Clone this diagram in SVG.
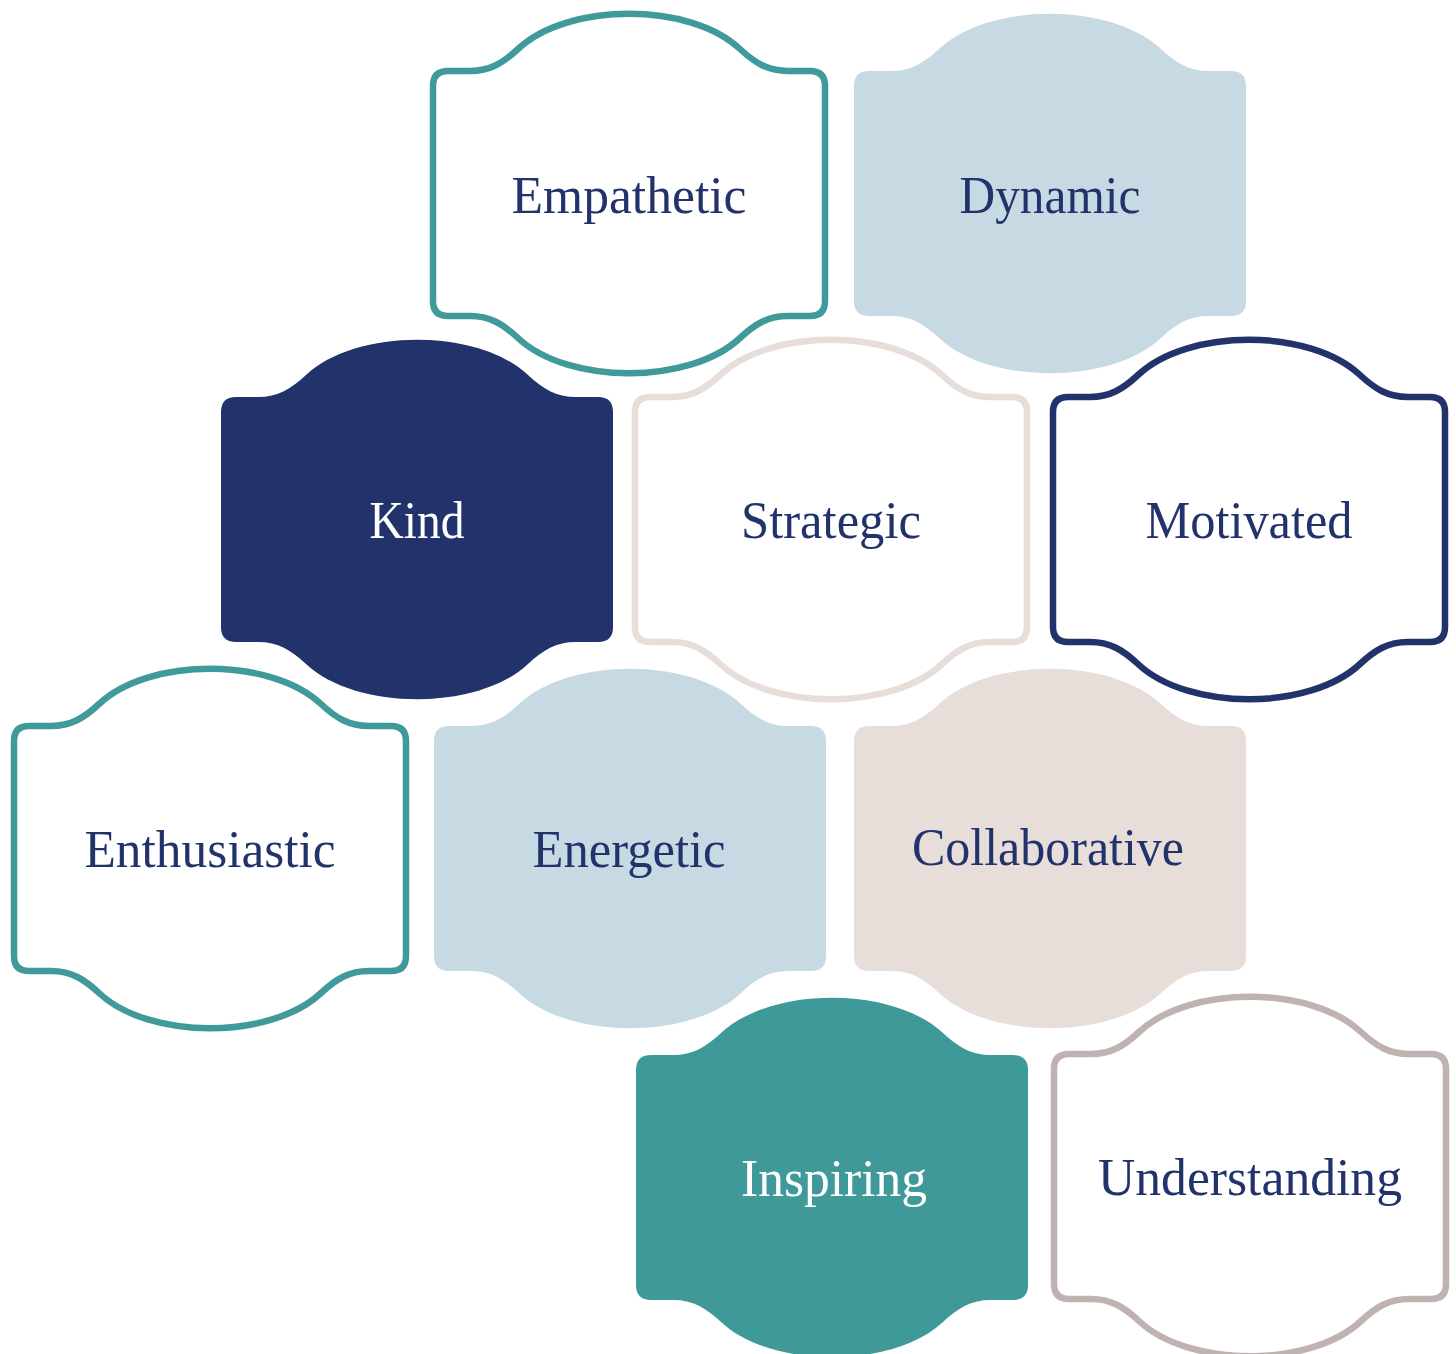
<svg xmlns="http://www.w3.org/2000/svg" xmlns:xlink="http://www.w3.org/1999/xlink" width="1456" height="1354" viewBox="0 0 1456 1354">
<style>
  .lbl { font-family: "Liberation Serif", "DejaVu Serif", serif; font-size: 52px; text-anchor: middle; fill: #22336B; }
  .w { fill: #FFFFFF; }
  .o { fill: #FFFFFF; stroke-width: 6.5; }
  .teal-o { stroke: #409A9A; }
  .navy-o { stroke: #22336B; }
  .beige-o { stroke: #E7DED9; }
  .taupe-o { stroke: #BFB2B0; }
  .blue-f { fill: #C7DAE4; }
  .navy-f { fill: #22326B; }
  .beige-f { fill: #E7DED9; }
  .teal-f { fill: #409999; }
</style>
<defs>
  <path id="shape" d="M 15,0 L 37,0 C 57,0 70,-8 85,-22 C 135,-69 257,-69 307,-22 C 322,-8 335,0 355,0 L 377,0 Q 392,0 392,15 L 392,230 Q 392,245 377,245 L 355,245 C 335,245 322,253 307,267 C 257,314 135,314 85,267 C 70,253 57,245 37,245 L 15,245 Q 0,245 0,230 L 0,15 Q 0,0 15,0 Z"/>
</defs>
<rect width="1456" height="1354" fill="#FFFFFF"/>

<g id="empathetic">
  <use xlink:href="#shape" href="#shape" class="o teal-o" transform="translate(433,71)"/>
  <text class="lbl" x="629" y="213" textLength="235" lengthAdjust="spacingAndGlyphs">Empathetic</text>
</g>
<g id="dynamic">
  <use xlink:href="#shape" href="#shape" class="blue-f" transform="translate(854,71)"/>
  <text class="lbl" x="1050" y="213" textLength="181" lengthAdjust="spacingAndGlyphs">Dynamic</text>
</g>
<g id="kind">
  <use xlink:href="#shape" href="#shape" class="navy-f" transform="translate(221,397)"/>
  <text class="lbl w" x="417" y="538" textLength="95" lengthAdjust="spacingAndGlyphs">Kind</text>
</g>
<g id="strategic">
  <use xlink:href="#shape" href="#shape" class="o beige-o" transform="translate(635,397)"/>
  <text class="lbl" x="831" y="538" textLength="180" lengthAdjust="spacingAndGlyphs">Strategic</text>
</g>
<g id="motivated">
  <use xlink:href="#shape" href="#shape" class="o navy-o" transform="translate(1053,397)"/>
  <text class="lbl" x="1249" y="538" textLength="207" lengthAdjust="spacingAndGlyphs">Motivated</text>
</g>
<g id="enthusiastic">
  <use xlink:href="#shape" href="#shape" class="o teal-o" transform="translate(14,726)"/>
  <text class="lbl" x="210" y="867" textLength="251" lengthAdjust="spacingAndGlyphs">Enthusiastic</text>
</g>
<g id="energetic">
  <use xlink:href="#shape" href="#shape" class="blue-f" transform="translate(434,726)"/>
  <text class="lbl" x="629" y="867" textLength="193" lengthAdjust="spacingAndGlyphs">Energetic</text>
</g>
<g id="collaborative">
  <use xlink:href="#shape" href="#shape" class="beige-f" transform="translate(854,726)"/>
  <text class="lbl" x="1048" y="865" textLength="272" lengthAdjust="spacingAndGlyphs">Collaborative</text>
</g>
<g id="inspiring">
  <use xlink:href="#shape" href="#shape" class="teal-f" transform="translate(636,1055)"/>
  <text class="lbl w" x="834" y="1196" textLength="186" lengthAdjust="spacingAndGlyphs">Inspiring</text>
</g>
<g id="understanding">
  <use xlink:href="#shape" href="#shape" class="o taupe-o" transform="translate(1054,1054)"/>
  <text class="lbl" x="1250" y="1195" textLength="304" lengthAdjust="spacingAndGlyphs">Understanding</text>
</g>
</svg>
